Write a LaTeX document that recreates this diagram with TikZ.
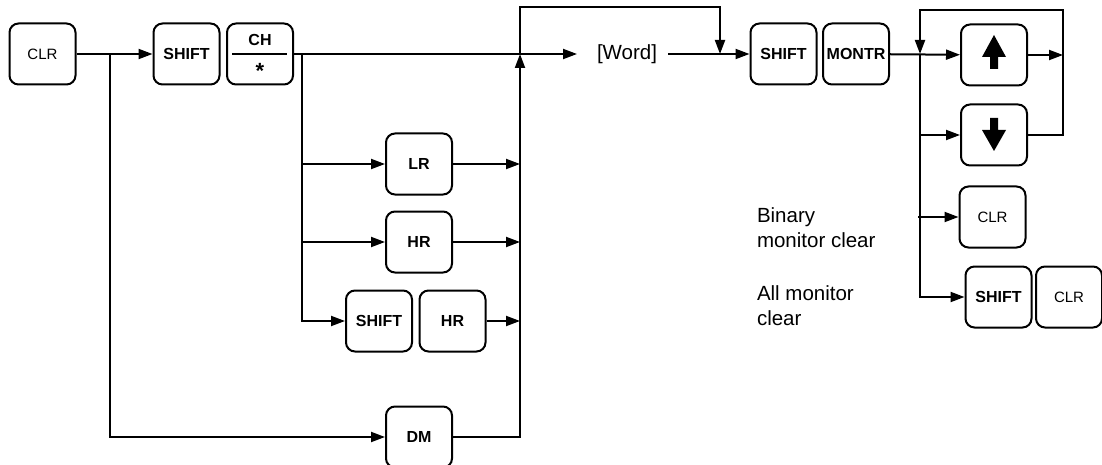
\documentclass[tikz,border=0pt]{standalone}
\usepackage{fontspec}
\setmainfont{Liberation Sans}
\usetikzlibrary{arrows.meta,positioning}

\begin{document}
\begin{tikzpicture}[x=1pt,y=-1pt,line width=2pt]
    \pgfmathsetmacro{\keyw}{66}
    \pgfmathsetmacro{\keyh}{61}
    \tikzset{key/.style={draw,rounded corners=9pt,minimum width=\keyw pt,minimum height=\keyh pt,inner sep=0pt,font=\fontsize{15}{18}\selectfont},
        bkey/.style={key,font=\fontsize{16}{18}\selectfont\bfseries},
        lbl/.style={font=\fontsize{20.5}{25}\selectfont,inner sep=0pt},
        >={Triangle[length=14pt,width=10pt]}}
    \useasboundingbox (0,0) rectangle (1102,465);
    % keys
    \node[key] (clrA) at (42.5,54) {CLR};
    \node[bkey] (shiftA) at (186.5,54) {SHIFT};
    \node[bkey] (chA) at (260,54) {};
    \node[bkey,draw=none,minimum size=0pt] (chtxt) at (260,40) {CH};
    \node[bkey,draw=none,minimum size=0pt,anchor=base,font=\fontsize{22}{24}\selectfont\bfseries] (chstar) at (260,79) {*};
    \draw ([xshift=-28pt]chA.center) -- ([xshift=27pt]chA.center);
    \node[bkey] (lr) at (419,164) {LR};
    \node[bkey] (hrA) at (419,242) {HR};
    \node[bkey] (shiftD) at (379,321) {SHIFT};
    \node[bkey] (hrB) at (452.5,321) {HR};
    \node[bkey] (dm) at (419,437) {DM};
    \node[lbl] (word) at (627,54) {[Word]};
    \node[bkey] (shiftB) at (783.5,54) {SHIFT};
    \node[bkey] (montr) at (856,54) {MONTR};
    \node[bkey] (up) at (994,55) {};
    \node[bkey] (down) at (994,135) {};
    \node[key] (clrC) at (992.5,217) {CLR};
    \node[bkey] (shiftC) at (998.5,297) {SHIFT};
    \node[key] (clrD) at (1069,297) {CLR};
    \fill[shift={(up.center)}] (0,-20) -- (12,2) -- (4,2) -- (4,14) -- (-4,14) -- (-4,2) -- (-12,2) -- cycle;
    \fill[shift={(down.center)}] (0,16) -- (12,-5) -- (4,-5) -- (4,-17) -- (-4,-17) -- (-4,-5) -- (-12,-5) -- cycle;
    % labels
    \node[lbl,anchor=west,align=left] (binlbl) at (756,228) {Binary\\monitor clear};
    \node[lbl,anchor=west,align=left] (alllbl) at (756,306) {All monitor\\clear};
    % junctions
    \coordinate (jA) at (110,54);
    \coordinate (jB) at (302,54);
    \coordinate (jC) at (520,54);
    \coordinate (jD) at (720,54);
    \coordinate (jE) at (920,54);
    \coordinate (jF) at (1063,55);
    \coordinate (loopA) at (520,7);
    \coordinate (loopB) at (1063,10);
    % connectors
    \draw[->] (clrA) -- (shiftA);
    \draw[->] (jA) |- (dm);
    \draw[->,shorten >=19pt] (chA) -- (word);
    \draw[->,shorten <=10pt] (word) -- (shiftB);
    \draw[->] (jB) |- (shiftD);
    \draw[->] (jB |- lr) -- (lr);
    \draw[->] (jB |- hrA) -- (hrA);
    \draw[->] (lr) -- (lr -| jC);
    \draw[->] (hrA) -- (hrA -| jC);
    \draw[->] (hrB) -- (hrB -| jC);
    \draw[->] (dm) -| (jC);
    \draw[->] (jC) -- (loopA) -| (jD);
    \draw[->] (montr) -- (up);
    \draw[->] (jE) |- (shiftC);
    \draw[->] (jE |- down) -- (down);
    \draw[->] ([xshift=-2pt]jE |- clrC) -- (clrC);
    \draw[->] (up) -- (jF);
    \draw[->] (down) -| (loopB) -| (jE);
\end{tikzpicture}
\end{document}
